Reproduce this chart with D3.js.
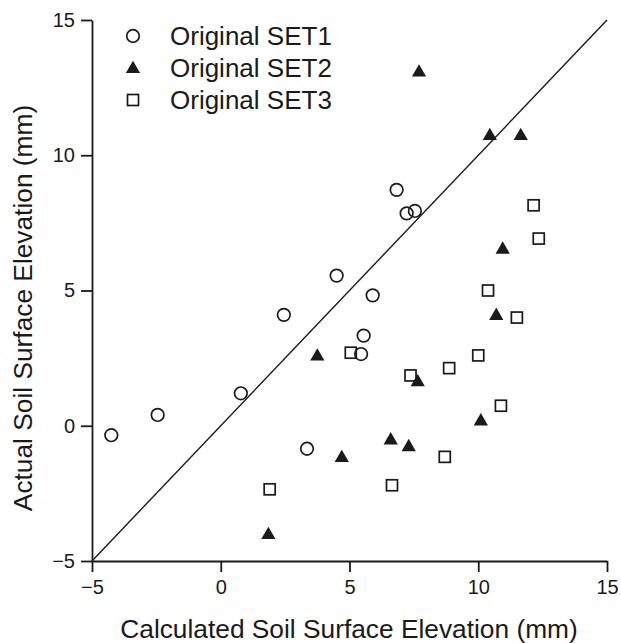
<!DOCTYPE html>
<html>
<head>
<meta charset="utf-8">
<script src="https://cdn.jsdelivr.net/npm/d3@7"></script>
<style>
html,body{margin:0;padding:0;background:#fff;}
svg{display:block;}
</style>
</head>
<body>
<svg id="chart" width="621" height="643"></svg>
<script>
const xTicks = [-5, 0, 5, 10, 15];
const yTicks = [-5, 0, 5, 10, 15];
const seriesNames = ["Original SET1", "Original SET2", "Original SET3"];

const set1X = [-4.25, -2.45, 0.78, 3.35, 2.45, 4.5, 5.9, 5.55, 5.45, 6.83, 7.22, 7.54];
const set1Y = [-0.35, 0.4, 1.2, -0.85, 4.1, 5.55, 4.82, 3.33, 2.65, 8.72, 7.85, 7.94];

const set2X = [7.7, 10.45, 11.65, 10.95, 10.7, 7.65, 10.1, 7.3, 6.6, 4.7, 3.75, 1.85];
const set2Y = [13.1, 10.75, 10.75, 6.55, 4.1, 1.65, 0.2, -0.75, -0.5, -1.15, 2.6, -4.0];

const set3X = [12.15, 12.35, 10.38, 11.5, 10.0, 8.87, 7.37, 10.88, 8.7, 5.05, 6.65, 1.9];
const set3Y = [8.15, 6.92, 5.0, 4.0, 2.6, 2.13, 1.86, 0.74, -1.15, 2.7, -2.2, -2.35];

const lineX = [-5, 15];
const lineY = [-5, 15];

const svg = d3.select("#chart");
const ink = "#1a1a1a";
const font = "Liberation Sans, Arial, Helvetica, sans-serif";

const x = d3.scaleLinear().domain([-5, 15]).range([92, 607]);
const y = d3.scaleLinear().domain([-5, 15]).range([561, 20]);

// axes
const xAxis = d3.axisBottom(x).tickValues(xTicks).tickSize(11).tickSizeOuter(0).tickPadding(8);
const yAxis = d3.axisLeft(y).tickValues(yTicks).tickSize(11).tickSizeOuter(0).tickPadding(6);

const gx = svg.append("g").attr("transform", `translate(0,${y(-5)})`).call(xAxis);
const gy = svg.append("g").attr("transform", `translate(${x(-5)},0)`).call(yAxis);
[gx, gy].forEach(g => {
  g.select(".domain").attr("stroke", ink).attr("stroke-width", 1.8);
  g.selectAll(".tick line").attr("stroke", ink).attr("stroke-width", 1.8);
  g.selectAll(".tick text").attr("fill", ink).attr("font-size", 20).attr("font-family", font);
});

// 1:1 line
svg.append("line")
  .attr("x1", x(lineX[0])).attr("y1", y(lineY[0]))
  .attr("x2", x(lineX[1])).attr("y2", y(lineY[1]))
  .attr("stroke", ink).attr("stroke-width", 1.4);

const d1 = set1X.map((v, i) => [v, set1Y[i]]);
const d2 = set2X.map((v, i) => [v, set2Y[i]]);
const d3s = set3X.map((v, i) => [v, set3Y[i]]);

const triPath = d3.symbol().type(d3.symbolTriangle).size(88)();

function drawCircle(g, cx, cy) {
  g.append("circle").attr("cx", cx).attr("cy", cy).attr("r", 6.3)
    .attr("fill", "none").attr("stroke", ink).attr("stroke-width", 1.7);
}
function drawTri(g, cx, cy) {
  g.append("path").attr("d", triPath).attr("transform", `translate(${cx},${cy + 1})`)
    .attr("fill", ink);
}
function drawSq(g, cx, cy) {
  g.append("rect").attr("x", cx - 5.5).attr("y", cy - 5.5).attr("width", 11).attr("height", 11)
    .attr("fill", "none").attr("stroke", ink).attr("stroke-width", 1.7);
}

const pts = svg.append("g");
d1.forEach(d => drawCircle(pts, x(d[0]), y(d[1])));
d3s.forEach(d => drawSq(pts, x(d[0]), y(d[1])));
d2.forEach(d => drawTri(pts, x(d[0]), y(d[1])));

// legend
const legY = [36, 68, 100];
const leg = svg.append("g");
const drawers = [drawCircle, drawTri, drawSq];
seriesNames.forEach((name, i) => {
  drawers[i](leg, 133, legY[i]);
  leg.append("text").attr("x", 170).attr("y", legY[i] + 9)
    .attr("font-size", 26).attr("font-family", font).attr("fill", ink).text(name);
});

// axis titles
svg.append("text").attr("x", 349).attr("y", 638).attr("text-anchor", "middle")
  .attr("font-size", 26.3).attr("font-family", font).attr("fill", ink)
  .text("Calculated Soil Surface Elevation (mm)");
svg.append("text").attr("transform", "translate(32,308) rotate(-90)").attr("text-anchor", "middle")
  .attr("font-size", 26.3).attr("font-family", font).attr("fill", ink)
  .text("Actual Soil Surface Elevation (mm)");
</script>
</body>
</html>
